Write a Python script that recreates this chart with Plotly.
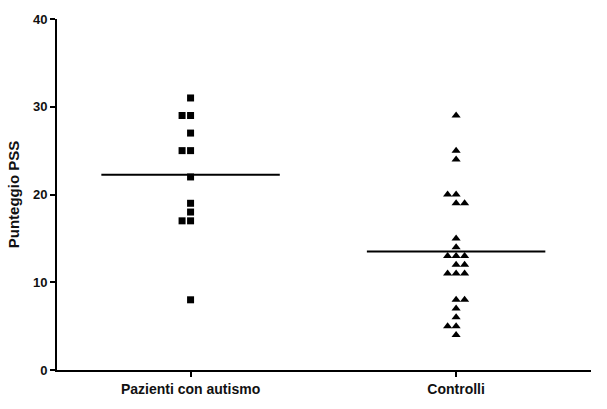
import plotly.graph_objects as go
from collections import Counter

categories = ["Pazienti con autismo", "Controlli"]
autismo = [31, 29, 29, 27, 25, 25, 22, 19, 18, 17, 17, 8]
controlli = [29, 25, 24, 20, 20, 19, 19, 15, 14, 13, 13, 13,
             12, 12, 11, 11, 11, 8, 8, 7, 6, 5, 5, 4]
y_ticks = [0, 10, 20, 30, 40]

# which side a pair of equal values spreads to (-1 left, +1 right), as drawn by Prism
pair_side = [{}, {19: 1, 12: 1, 8: 1}]

STEP = 0.032
HALF = 0.336


def spread(values, center, sides):
    counts = Counter(values)
    seen = Counter()
    xs = []
    for v in values:
        n = counts[v]
        k = seen[v]
        seen[v] += 1
        if n == 1:
            off = 0
        elif n == 2:
            side = sides.get(v, -1)
            off = [side, 0][k] if side < 0 else [0, side][k]
        else:
            off = k - (n - 1) / 2
        xs.append(center + off * STEP)
    return xs


fig = go.Figure()
groups = [autismo, controlli]
symbols = ["square", "triangle-up"]
sizes = [7, 8]
for i, vals in enumerate(groups):
    fig.add_trace(go.Scatter(
        x=spread(vals, i, pair_side[i]), y=vals, mode="markers",
        marker=dict(symbol=symbols[i], size=sizes[i], color="black"),
        showlegend=False, hoverinfo="y"))
    m = sum(vals) / len(vals)
    fig.add_trace(go.Scatter(
        x=[i - HALF, i + HALF], y=[m, m], mode="lines",
        line=dict(color="black", width=2), showlegend=False, hoverinfo="y"))

font = dict(family="Liberation Sans, Arial, sans-serif", color="#111111")
fig.update_layout(
    width=607, height=409,
    margin=dict(l=53, r=16, t=17, b=36),
    plot_bgcolor="white", paper_bgcolor="white",
    font=font,
    xaxis=dict(range=[-0.503, 1.508], tickvals=[0, 1],
               ticktext=["<b>%s</b>" % c for c in categories],
               showline=True, linecolor="black", linewidth=2,
               ticks="outside", ticklen=5, tickwidth=2, tickcolor="black",
               showgrid=False, zeroline=False, tickfont=dict(size=14)),
    yaxis=dict(range=[0, 40], tickvals=y_ticks,
               ticktext=["<b>%d</b>" % t for t in y_ticks],
               showline=True, linecolor="black", linewidth=2,
               ticks="outside", ticklen=5, tickwidth=2, tickcolor="black",
               showgrid=False, zeroline=False, tickfont=dict(size=13),
               title=dict(text="<b>Punteggio PSS</b>", font=dict(size=15), standoff=10)),
)

# drop the default 8px body margin so the 607x409 figure fills the window
fig.write_html("out.html", config={"displayModeBar": False},
               post_script="document.body.style.margin='0';")
